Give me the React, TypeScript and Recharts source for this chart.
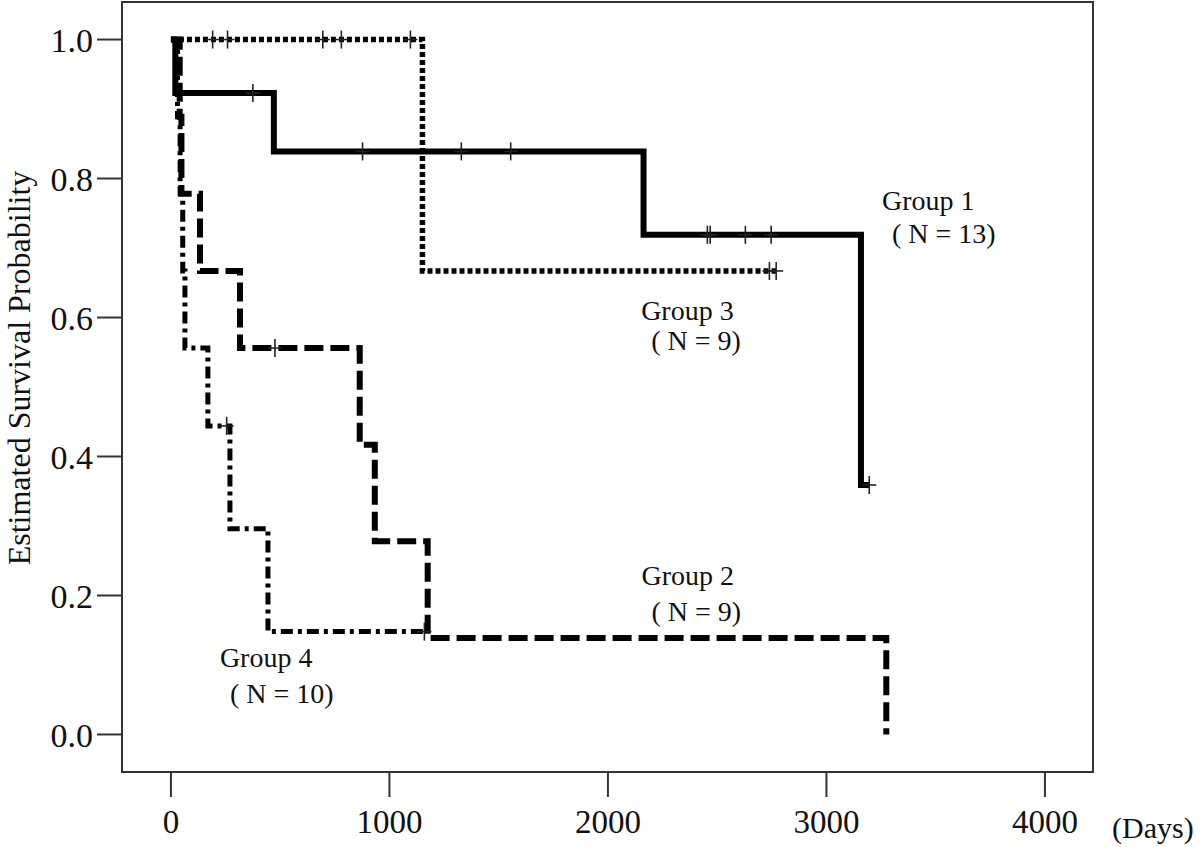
import {
  ComposedChart,
  Line,
  Scatter,
  XAxis,
  YAxis,
  ReferenceArea,
  ReferenceDot,
} from 'recharts';

// Kaplan-Meier step points (days, survival)
const group1 = [
  { t: 0, s: 1.0 },
  { t: 20, s: 0.923 },
  { t: 471, s: 0.839 },
  { t: 2163, s: 0.719 },
  { t: 3158, s: 0.359 },
  { t: 3196, s: 0.359 },
];
const group2 = [
  { t: 0, s: 1.0 },
  { t: 40, s: 0.889 },
  { t: 48, s: 0.778 },
  { t: 133, s: 0.667 },
  { t: 316, s: 0.556 },
  { t: 864, s: 0.417 },
  { t: 933, s: 0.278 },
  { t: 1175, s: 0.139 },
  { t: 3274, s: 0.0 },
];
const group3 = [
  { t: 0, s: 1.0 },
  { t: 1151, s: 0.667 },
  { t: 2770, s: 0.667 },
];
const group4 = [
  { t: 0, s: 1.0 },
  { t: 30, s: 0.889 },
  { t: 42, s: 0.778 },
  { t: 54, s: 0.667 },
  { t: 64, s: 0.556 },
  { t: 169, s: 0.444 },
  { t: 270, s: 0.296 },
  { t: 444, s: 0.148 },
  { t: 1160, s: 0.148 },
];

// censored observations
const censor1 = [
  { t: 375, s: 0.923 },
  { t: 877, s: 0.839 },
  { t: 1329, s: 0.839 },
  { t: 1555, s: 0.839 },
  { t: 2455, s: 0.719 },
  { t: 2468, s: 0.719 },
  { t: 2629, s: 0.719 },
  { t: 2747, s: 0.719 },
  { t: 3196, s: 0.359 },
];
const censor2 = [{ t: 476, s: 0.556 }];
const censor3 = [
  { t: 191, s: 1.0 },
  { t: 259, s: 1.0 },
  { t: 695, s: 1.0 },
  { t: 780, s: 1.0 },
  { t: 1096, s: 1.0 },
  { t: 2739, s: 0.667 },
  { t: 2770, s: 0.667 },
];
const censor4 = [
  { t: 255, s: 0.444 },
  { t: 1160, s: 0.148 },
];

const groupLabels = [
  { t: 3254, s: 0.7545, text: 'Group 1' },
  { t: 3300, s: 0.707, text: '( N = 13)' },
  { t: 2152, s: 0.596, text: 'Group 3' },
  { t: 2198, s: 0.553, text: '( N = 9)' },
  { t: 2154, s: 0.2145, text: 'Group 2' },
  { t: 2199, s: 0.164, text: '( N = 9)' },
  { t: 224, s: 0.0965, text: 'Group 4' },
  { t: 270, s: 0.046, text: '( N = 10)' },
];

const xTicks = [0, 1000, 2000, 3000, 4000];
const yTicks = [0, 0.2, 0.4, 0.6, 0.8, 1.0];
const xDomain = [-224, 4220];
const yDomain = [-0.054, 1.054];

const FONT = 'Liberation Serif, Times New Roman, serif';

function CensorMark(props: any) {
  const { cx, cy } = props;
  if (cx == null || cy == null) return null;
  return (
    <g stroke="#222" strokeWidth={1.6}>
      <line x1={cx} y1={cy - 9} x2={cx} y2={cy + 9} />
      <line x1={cx - 7} y1={cy} x2={cx + 7} y2={cy} />
    </g>
  );
}

function labelShape(text: string) {
  return (p: any) => (
    <text x={p.cx} y={p.cy} fontFamily={FONT} fontSize={28} fill="#111">
      {text}
    </text>
  );
}

export default function App() {
  return (
    <div style={{ position: 'absolute', left: 0, top: 0, width: 1200, height: 847, background: '#fff' }}>
      <ComposedChart width={1200} height={847} margin={{ top: 2, right: 107, bottom: 0, left: 0 }}>
        <XAxis
          type="number"
          dataKey="t"
          domain={xDomain}
          allowDataOverflow
          ticks={xTicks}
          height={75}
          axisLine={false}
          tickSize={25}
          tickMargin={13}
          tickLine={{ stroke: '#333', strokeWidth: 2 }}
          tick={{ fill: '#111', fontSize: 33, fontFamily: FONT }}
        />
        <YAxis
          type="number"
          domain={yDomain}
          allowDataOverflow
          ticks={yTicks}
          width={122}
          axisLine={false}
          tickSize={25}
          tickMargin={4}
          tickLine={{ stroke: '#333', strokeWidth: 2 }}
          tick={{ fill: '#111', fontSize: 34, fontFamily: FONT }}
          tickFormatter={(v: number) => v.toFixed(1)}
          label={{
            content: () => (
              <text
                x={30}
                y={368}
                transform="rotate(-90 30 368)"
                textAnchor="middle"
                fontFamily={FONT}
                fontSize={32}
                fill="#111"
              >
                Estimated Survival Probability
              </text>
            ),
          }}
        />
        <ReferenceArea
          x1={xDomain[0]}
          x2={xDomain[1]}
          y1={yDomain[0]}
          y2={yDomain[1]}
          fill="none"
          stroke="#333"
          strokeWidth={2}
        />
        <Line data={group3} dataKey="s" type="stepAfter" stroke="#000" strokeWidth={5.5} strokeDasharray="5 3" dot={false} isAnimationActive={false} />
        <Line data={group4} dataKey="s" type="stepAfter" stroke="#000" strokeWidth={5} strokeDasharray="12 5 4 5" dot={false} isAnimationActive={false} />
        <Line data={group2} dataKey="s" type="stepAfter" stroke="#000" strokeWidth={6} strokeDasharray="19 7" dot={false} isAnimationActive={false} />
        <Line data={group1} dataKey="s" type="stepAfter" stroke="#000" strokeWidth={6} dot={false} isAnimationActive={false} />
        <Scatter data={censor1} dataKey="s" shape={<CensorMark />} isAnimationActive={false} />
        <Scatter data={censor2} dataKey="s" shape={<CensorMark />} isAnimationActive={false} />
        <Scatter data={censor3} dataKey="s" shape={<CensorMark />} isAnimationActive={false} />
        <Scatter data={censor4} dataKey="s" shape={<CensorMark />} isAnimationActive={false} />
        {groupLabels.map((g) => (
          <ReferenceDot key={g.text + g.t} x={g.t} y={g.s} r={0} shape={labelShape(g.text)} />
        ))}
      </ComposedChart>
      <div
        style={{
          position: 'absolute',
          left: 1112,
          top: 810,
          fontFamily: FONT,
          fontSize: 30,
          lineHeight: '36px',
          color: '#111',
          whiteSpace: 'nowrap',
        }}
      >
        (Days)
      </div>
    </div>
  );
}
